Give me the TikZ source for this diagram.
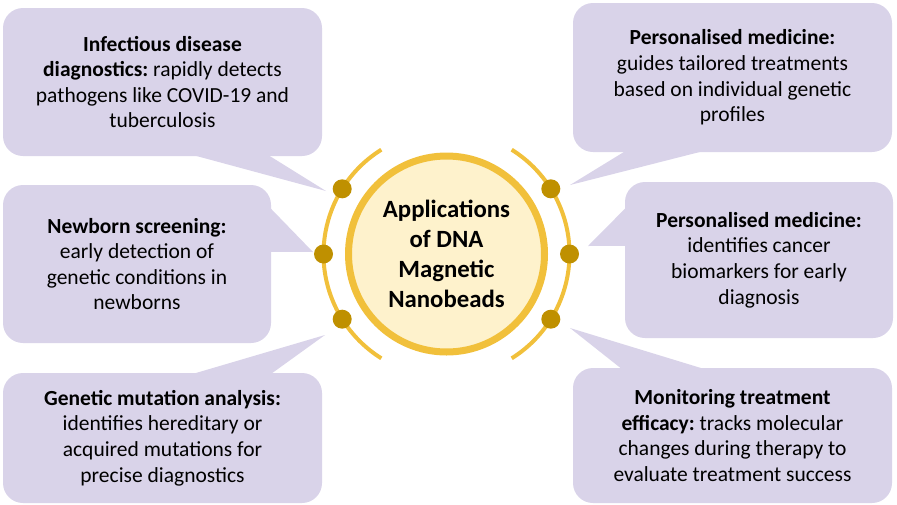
\documentclass[tikz,border=0pt]{standalone}
\usepackage{fontspec}
\setmainfont{Carlito}
\usetikzlibrary{calc}

\definecolor{lavender}{HTML}{D9D3E9}
\definecolor{ringgold}{HTML}{F1C03B}
\definecolor{beadgold}{HTML}{BF9000}
\definecolor{corefill}{HTML}{FEF2CC}

\tikzset{
  callout/.style={rectangle, rounded corners=20pt, fill=lavender, inner sep=0pt,
    align=center, font=\fontsize{21.5}{25.6}\selectfont\frenchspacing, text=black},
  tail/.style={fill=lavender},
  core/.style={circle, draw=ringgold, line width=7pt, fill=corefill,
    minimum size=196pt, inner sep=0pt, align=center,
    font=\fontsize{24.8}{30}\selectfont\bfseries},
  bead/.style={circle, fill=beadgold, minimum size=19pt, inner sep=0pt},
  orbit/.style={draw=ringgold, line width=4pt}
}

\begin{document}
\begin{tikzpicture}[x=1pt,y=1pt]
\useasboundingbox (0,0) rectangle (897,-504);

% central disc
\node[core] (hub) at (446.5,-254) {Applications\\of DNA\\Magnetic\\Nanobeads};

% beads sitting on the two orbit arcs
\foreach \n/\a in {l1/148, l2/180, l3/212, r1/32, r2/0, r3/-32}
  \coordinate (p\n) at ($(hub.center)+(\a:123)$);

% tips of the speech-bubble tails
\coordinate (tip1) at (326,-191);
\coordinate (tip2) at (313,-252);
\coordinate (tip3) at (325,-335);
\coordinate (tip4) at (570,-185);
\coordinate (tip5) at (588,-246);
\coordinate (tip6) at (570,-328);

% callout boxes
\node[callout, minimum width=319pt, minimum height=148pt] (b1) at (162.5,-82)
  {\textbf{Infectious disease}\\\textbf{diagnostics:} rapidly detects\\pathogens like COVID-19 and\\tuberculosis};
\node[callout, minimum width=268pt, minimum height=158pt] (b2) at (137,-264)
  {\textbf{Newborn screening:}\\early detection of\\genetic conditions in\\newborns};
\node[callout, minimum width=319pt, minimum height=130pt] (b3) at (162.5,-438)
  {\textbf{Genetic mutation analysis:}\\identifies hereditary or\\acquired mutations for\\precise diagnostics};
\node[callout, minimum width=319pt, minimum height=149pt] (b4) at (732.5,-77.5)
  {\textbf{Personalised medicine:}\\guides tailored treatments\\based on individual genetic\\profiles};
\node[callout, minimum width=268pt, minimum height=156pt] (b5) at (759,-260)
  {\textbf{Personalised medicine:}\\identifies cancer\\biomarkers for early\\diagnosis};
\node[callout, minimum width=319pt, minimum height=135pt] (b6) at (732.5,-435.5)
  {\textbf{Monitoring treatment}\\\textbf{efficacy:} tracks molecular\\changes during therapy to\\evaluate treatment success};

% bubble tails
\fill[tail] ([xshift=187pt,yshift=2pt]b1.south west) -- (tip1) -- ([xshift=264pt,yshift=2pt]b1.south west) -- cycle;
\fill[tail] ([xshift=-4pt,yshift=-20pt]b2.north east) -- (tip2) -- ([xshift=-4pt,yshift=-67pt]b2.north east) -- cycle;
\fill[tail] ([xshift=187pt,yshift=-2pt]b3.north west) -- (tip3) -- ([xshift=267pt,yshift=-2pt]b3.north west) -- cycle;
\fill[tail] ([xshift=54pt,yshift=2pt]b4.south west) -- (tip4) -- ([xshift=134pt,yshift=2pt]b4.south west) -- cycle;
\fill[tail] ([xshift=4pt,yshift=-23pt]b5.north west) -- (tip5) -- ([xshift=4pt,yshift=-64pt]b5.north west) -- cycle;
\fill[tail] ([xshift=50pt,yshift=-2pt]b6.north west) -- (tip6) -- ([xshift=134pt,yshift=-2pt]b6.north west) -- cycle;

% orbit arcs
\draw[orbit] ($(hub.center)+(122:123)$) arc[start angle=122, end angle=238, radius=123pt];
\draw[orbit] ($(hub.center)+(-58:123)$) arc[start angle=-58, end angle=58, radius=123pt];

\foreach \n in {l1,l2,l3,r1,r2,r3}
  \node[bead] (bead\n) at (p\n) {};
\end{tikzpicture}
\end{document}
